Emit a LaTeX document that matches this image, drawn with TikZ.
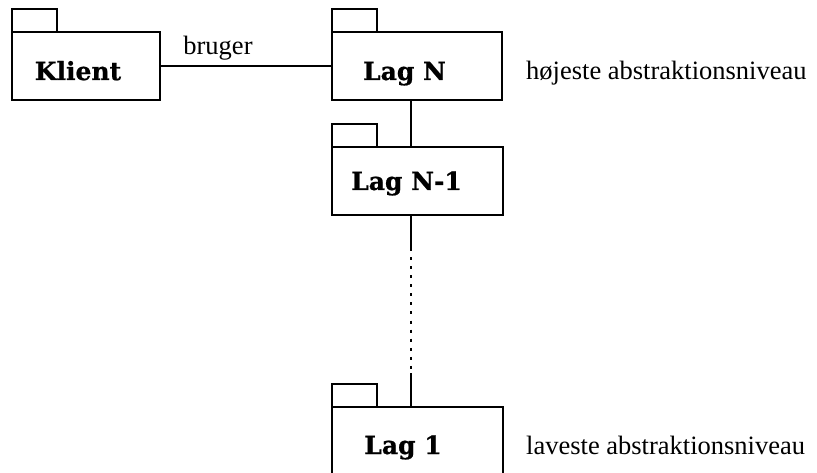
\documentclass[tikz,border=0pt]{standalone}
\usepackage{fontspec}
\setmainfont{Liberation Serif}
\newfontfamily\pkgfont{DejaVu Serif}[BoldFeatures={FakeBold=0.8}]
\begin{document}
\begin{tikzpicture}[x=1pt,y=-1pt,
  pkgbody/.style={draw, line width=1.4pt, rectangle, inner sep=0pt, outer sep=0pt,
    anchor=north west, minimum height=68pt},
  pkgname/.style={anchor=base, inner sep=0pt, font=\pkgfont\bfseries\fontsize{25}{29}\selectfont},
  note/.style={anchor=base west, inner sep=0pt, font=\fontsize{26.5}{30}\selectfont},
  conn/.style={line width=1.4pt},
  gap/.style={line width=1.6pt, dash pattern=on 3pt off 6.07pt}]
  \useasboundingbox (0,0) rectangle (817,473);

  % package bodies
  \node[pkgbody, minimum width=148pt] (K)  at (12,32)  {};
  \node[pkgbody, minimum width=170pt] (N)  at (332,32) {};
  \node[pkgbody, minimum width=171pt] (N1) at (332,147) {};
  \node[pkgbody, minimum width=171pt] (L1) at (332,407) {};

  % package tabs
  \foreach \p in {K,N,N1,L1}
    \draw[line width=1.4pt] (\p.north west) -- ++(0,-23) -- ++(45,0) -- ++(0,23);

  % package names
  \node[pkgname] (tK)  at (78,80)    {Klient};
  \node[pkgname] (tN)  at (404.5,80) {Lag N};
  \node[pkgname] (tN1) at (406.5,190) {Lag N-1};
  \node[pkgname] (tL1) at (403,454)  {Lag 1};

  % connectors
  \draw[conn] (K.east) -- (N.west);
  \node[anchor=base, inner sep=0pt, font=\fontsize{26.5}{30}\selectfont] (br) at (218,55) {bruger};
  \draw[conn] ([xshift=-6pt]N.south) -- ([xshift=-6.5pt]N1.north);
  \coordinate (d1) at (411,248);
  \coordinate (d2) at (411,373);
  \draw[conn] ([xshift=-6.5pt]N1.south) -- (d1);
  \draw[gap] (d1) -- (d2);
  \draw[conn] (d2) -- ([xshift=-6.5pt]L1.north);

  % level notes
  \node[note] (hi) at (526,80)  {højeste abstraktionsniveau};
  \node[note] (lo) at (526,454) {laveste abstraktionsniveau};
\end{tikzpicture}
\end{document}
